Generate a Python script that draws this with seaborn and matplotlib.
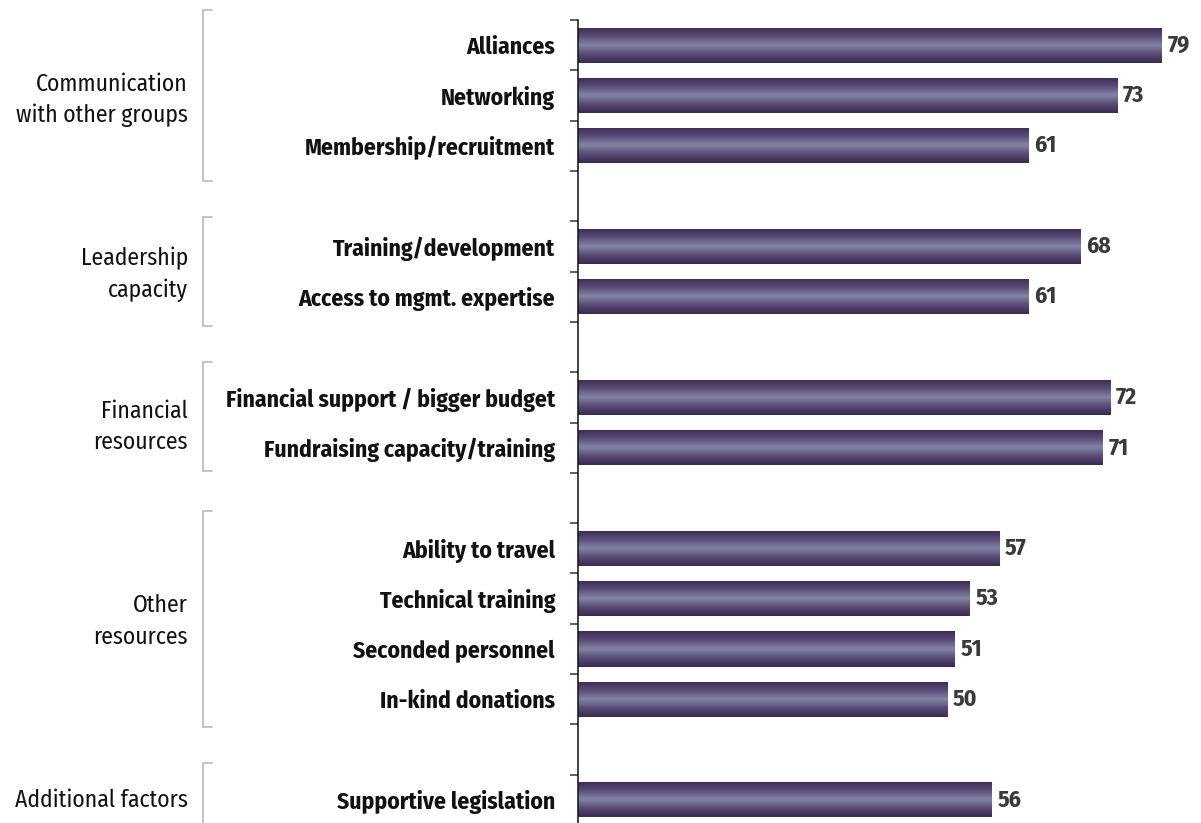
import numpy as np
import pandas as pd
import matplotlib
matplotlib.use("Agg")
import matplotlib.pyplot as plt
import seaborn as sns
from matplotlib.colors import LinearSegmentedColormap

# chart data
groups = ["Communication\nwith other groups", "Leadership\ncapacity", "Financial\nresources",
          "Other\nresources", "Additional factors"]
items = [
    ["Alliances", "Networking", "Membership/recruitment"],
    ["Training/development", "Access to mgmt. expertise"],
    ["Financial support / bigger budget", "Fundraising capacity/training"],
    ["Ability to travel", "Technical training", "Seconded personnel", "In-kind donations"],
    ["Supportive legislation"],
]
values = [
    [79, 73, 61],
    [68, 61],
    [72, 71],
    [57, 53, 51, 50],
    [56],
]

# category order with an empty slot between groups
order, rows = [], []
for g, (names, vals) in enumerate(zip(items, values)):
    for n, v in zip(names, vals):
        order.append(n)
        rows.append({"item": n, "value": v, "group": groups[g]})
    if g < len(groups) - 1:
        order.append(f"_gap{g}")
df = pd.DataFrame(rows)

sns.set_style("white")
plt.rcParams["font.family"] = ["Fira Sans Condensed", "DejaVu Sans"]

fig = plt.figure(figsize=(12.01, 8.23), dpi=100)
ax = fig.add_axes([578 / 1201, 0.0, 1 - 578 / 1201, 1 - 20 / 823])

sns.barplot(data=df, x="value", y="item", order=order, width=0.7,
            color="#4a3962", errorbar=None, ax=ax)

# gradient fill for each bar, clipped to the bar shape
cmap = LinearSegmentedColormap.from_list(
    "bar", ["#3e2b55", "#5a4c78", "#8385a4", "#5a4c78", "#3b2a4f"])
grad = np.linspace(0, 1, 64).reshape(-1, 1)
for p in list(ax.patches):
    x0, y0 = p.get_x(), p.get_y()
    w, h = p.get_width(), p.get_height()
    im = ax.imshow(grad, cmap=cmap, aspect="auto", extent=[x0, x0 + w, y0 + h, y0],
                   interpolation="bilinear", zorder=2)
    im.set_clip_path(p)
    p.set_facecolor("none")
    p.set_edgecolor("none")

ax.bar_label(ax.containers[0], fmt="{:.0f}", padding=4, fontsize=17,
             fontweight="bold", color="#3a3a3a")

ax.set_xlim(0, 84.3)
ax.set_ylim(15.46, -0.5)

# labels at category centres, tick marks at slot boundaries
ax.set_yticks(range(len(order)))
ax.set_yticklabels(["" if o.startswith("_gap") else o for o in order],
                   fontsize=17, fontweight="bold", color="#111111")
ax.set_yticks(np.arange(-0.5, len(order) - 1, 1), minor=True)
ax.tick_params(axis="y", which="major", length=0, pad=16.5)
ax.tick_params(axis="y", which="minor", length=6, width=1.1, color="#333333", left=True)
ax.set_xticks([])
ax.set_xlabel("")
ax.set_ylabel("")
sns.despine(ax=ax, top=True, right=True, bottom=True, left=False)
ax.spines["left"].set_color("#111111")
ax.spines["left"].set_linewidth(1.1)

# group brackets and group names (x in axes fraction, y in data units)
tr = ax.get_yaxis_transform()
bx = (203 - 578) / 623
stub = 9 / 623
bracket_spans = [(-0.70, 2.70), (3.42, 5.58), (6.30, 8.47), (9.26, 13.56), (14.27, 16.5)]
label_y = [1.09, 4.55, 7.59, 11.45, 15.0]
for (top, bot), ly, name in zip(bracket_spans, label_y, groups):
    ax.plot([bx + stub, bx, bx, bx + stub], [top, top, bot, bot], transform=tr,
            color="#c4c4c4", lw=1.4, clip_on=False, solid_joinstyle="miter")
    ax.text((188 - 578) / 623, ly, name, transform=tr, ha="right", va="center",
            fontsize=17, color="#111111", linespacing=1.45)

fig.savefig("out.png", dpi=100)
